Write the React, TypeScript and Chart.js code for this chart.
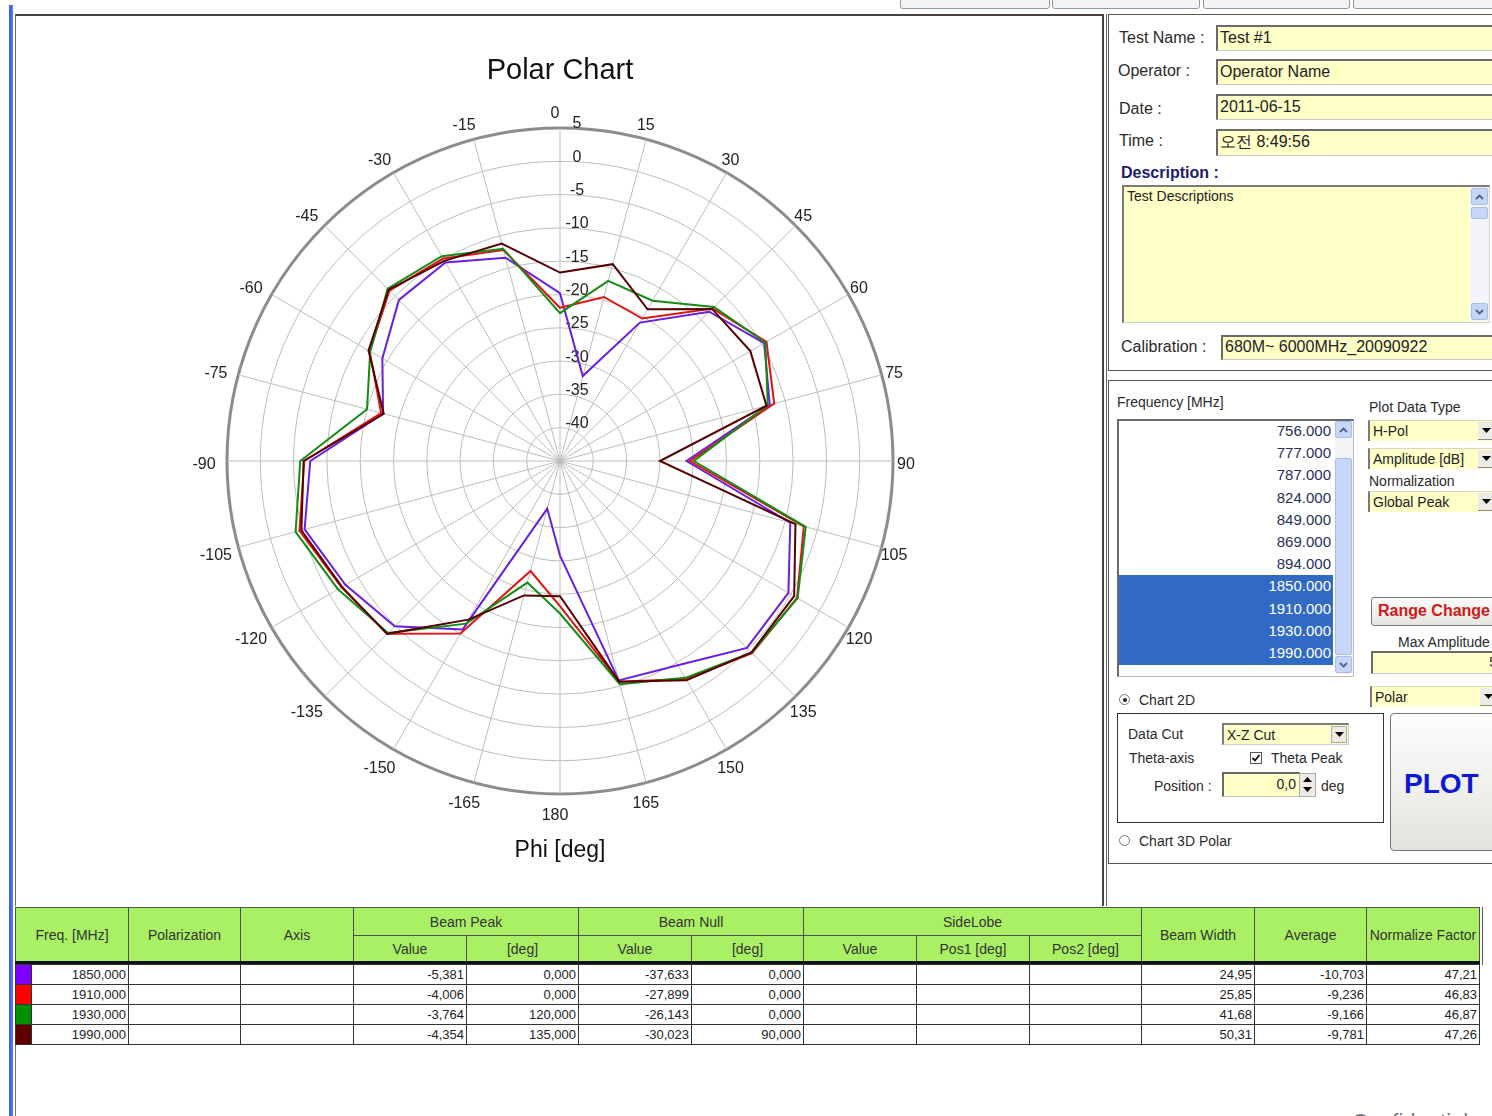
import React, { useEffect, useRef } from 'react';
import { Chart, registerables } from 'chart.js';

Chart.register(...registerables);

// ---------- DATA ----------
const angleLabels = ['0', '15', '30', '45', '60', '75', '90', '105', '120', '135', '150', '165', '180',
  '-165', '-150', '-135', '-120', '-105', '-90', '-75', '-60', '-45', '-30', '-15'];

const series1850 = [-19.8, -31.8, -21.0, -13.3, -9.6, -12.4, -26.0, -9.2, -5.4, -5.3, -9.6, -10.9, -30.8,
  -37.6, -15.8, -9.9, -7.8, -5.3, -7.5, -17.5, -14.2, -10.8, -10.6, -13.4];
const series1910 = [-22.0, -19.5, -20.3, -12.6, -9.2, -11.7, -25.5, -7.1, -3.9, -4.2, -7.2, -10.7, -23.2,
  -27.9, -15.1, -8.3, -7.1, -4.5, -6.6, -17.2, -12.0, -8.8, -9.9, -12.2];
const series1930 = [-22.8, -17.0, -17.2, -12.3, -9.4, -12.7, -24.9, -6.8, -3.8, -4.3, -7.4, -10.3, -22.1,
  -26.1, -16.8, -8.5, -6.5, -3.9, -6.0, -15.0, -12.1, -8.4, -9.5, -12.0];
const series1990 = [-16.7, -14.4, -18.7, -12.7, -12.0, -12.9, -30.0, -8.4, -4.4, -4.35, -7.0, -10.7, -24.7,
  -24.1, -17.5, -8.3, -7.2, -4.8, -6.5, -17.6, -11.8, -8.6, -10.3, -11.2];

const seriesNames = ['1850.000', '1910.000', '1930.000', '1990.000'];
const seriesColors = ['#6a1ee0', '#e01414', '#148c14', '#560000'];
const radialTicks = [5, 0, -5, -10, -15, -20, -25, -30, -35, -40];

const freqList = ['756.000', '777.000', '787.000', '824.000', '849.000', '869.000', '894.000',
  '1850.000', '1910.000', '1930.000', '1990.000'];

const tableFreq = ['1850,000', '1910,000', '1930,000', '1990,000'];
const beamPeakValue = ['-5,381', '-4,006', '-3,764', '-4,354'];
const beamPeakDeg = ['0,000', '0,000', '120,000', '135,000'];
const beamNullValue = ['-37,633', '-27,899', '-26,143', '-30,023'];
const beamNullDeg = ['0,000', '0,000', '0,000', '90,000'];
const beamWidth = ['24,95', '25,85', '41,68', '50,31'];
const averageVals = ['-10,703', '-9,236', '-9,166', '-9,781'];
const normFactor = ['47,21', '46,83', '46,87', '47,26'];
const swatchColors = ['#8000ff', '#ff0000', '#009000', '#600000'];

const FONT = '"Liberation Sans", Arial, sans-serif';

// ---------- helpers ----------
const T = ({ x, y, text, size = 16, bold = false, color = '#2a2a2a', family = FONT }: any) => (
  <div style={{ position: 'absolute', left: x, top: y, transform: 'translateY(-50%)', whiteSpace: 'nowrap',
    fontSize: size, lineHeight: 1, fontWeight: bold ? 'bold' : 'normal', color, fontFamily: family }}>{text}</div>
);

const Box = ({ x, y, w, h, style = {}, children }: any) => (
  <div style={{ position: 'absolute', left: x, top: y, width: w, height: h, boxSizing: 'border-box', ...style }}>{children}</div>
);

const Field = ({ x, y, w, h, text, size = 16, align = 'left' }: any) => (
  <Box x={x} y={y} w={w} h={h} style={{ background: '#ffffc8', borderTop: '2px solid #6a6a6a', borderLeft: '2px solid #6a6a6a',
    borderBottom: '1px solid #c8c8c8', borderRight: '1px solid #c8c8c8', overflow: 'hidden' }}>
    <div style={{ position: 'absolute', left: 2, right: 3, top: '50%', transform: 'translateY(-55%)', fontSize: size,
      lineHeight: 1, whiteSpace: 'nowrap', textAlign: align, color: '#222', fontFamily: FONT }}>{text}</div>
  </Box>
);

const Arrow = ({ dir = 'down', color = '#000' }: any) => (
  <svg width="9" height="6" viewBox="0 0 9 6" style={{ display: 'block' }}>
    {dir === 'down' ? <polygon points="0,0 9,0 4.5,5" fill={color} /> : <polygon points="0,5 9,5 4.5,0" fill={color} />}
  </svg>
);

const Combo = ({ x, y, w, h, text }: any) => (
  <Box x={x} y={y} w={w} h={h} style={{ background: '#ffffc8', borderLeft: '2px solid #7a7a7a', borderTop: '1px solid #d8d8c0' }}>
    <div style={{ position: 'absolute', left: 3, top: '50%', transform: 'translateY(-50%)', fontSize: 14, lineHeight: 1,
      whiteSpace: 'nowrap', color: '#222', fontFamily: FONT }}>{text}</div>
    <div style={{ position: 'absolute', right: 0, top: 1, width: 16, bottom: 1, background: '#ecebe6',
      display: 'flex', alignItems: 'center', justifyContent: 'center', borderBottom: '1px solid #888' }}>
      <Arrow />
    </div>
  </Box>
);

const ScrollBtn = ({ x, y, dir }: any) => (
  <Box x={x} y={y} w={17} h={17} style={{ background: '#c6d6f8', border: '1px solid #a8bde8', borderRadius: 2,
    display: 'flex', alignItems: 'center', justifyContent: 'center' }}>
    <svg width="9" height="6" viewBox="0 0 9 6">
      <polyline points={dir === 'up' ? '1,5 4.5,1.5 8,5' : '1,1 4.5,4.5 8,1'} fill="none" stroke="#4d6185" strokeWidth="1.8" />
    </svg>
  </Box>
);

const Radio = ({ x, y, checked }: any) => (
  <div style={{ position: 'absolute', left: x - 6, top: y - 6, width: 11, height: 11, borderRadius: '50%',
    border: '1px solid #7a7a7a', background: '#fff', boxSizing: 'border-box' }}>
    {checked && <div style={{ position: 'absolute', left: 2.5, top: 2.5, width: 4, height: 4, borderRadius: '50%', background: '#222' }} />}
  </div>
);

// ---------- chart ----------
const polarLabelPlugin = {
  id: 'polarLabels',
  beforeDatasetsDraw(chart: any) {
    const sc = chart.scales.r;
    const ctx = chart.ctx;
    ctx.save();
    ctx.font = '16px ' + FONT;
    ctx.fillStyle = '#222';
    ctx.textAlign = 'center';
    ctx.textBaseline = 'middle';
    // radial tick labels along the 0 deg spoke
    radialTicks.forEach((v) => {
      const d = sc.getDistanceFromCenterForValue(v);
      ctx.fillText(String(v), sc.xCenter + 17, sc.yCenter - d - 4);
    });
    // angle labels around the outer ring
    angleLabels.forEach((lab, i) => {
      const p = sc.getPointPosition(i, sc.drawingArea + 18);
      ctx.fillText(lab, p.x - 5, p.y + 3.5);
    });
    ctx.restore();
  },
};

function PolarChart() {
  const ref = useRef<HTMLCanvasElement>(null);
  useEffect(() => {
    const seriesData = [series1850, series1910, series1930, series1990];
    const chart = new Chart(ref.current as HTMLCanvasElement, {
      type: 'radar',
      data: {
        labels: angleLabels,
        datasets: seriesData.map((d, i) => ({
          label: seriesNames[i],
          data: d,
          borderColor: seriesColors[i],
          backgroundColor: 'transparent',
          borderWidth: 2,
          fill: false,
          pointRadius: 0,
          tension: 0,
          order: 4 - i,
        })),
      },
      options: {
        animation: false,
        responsive: false,
        layout: { padding: { top: 0, bottom: 0, left: 2, right: 0 } },
        plugins: {
          legend: { display: false },
          tooltip: { enabled: false },
          title: { display: true, text: 'Polar Chart', color: '#111', font: { size: 29, family: FONT, weight: 'normal' },
            padding: { top: 37.6, bottom: 40.1 } },
          subtitle: { display: true, position: 'bottom', text: 'Phi [deg]', color: '#111',
            font: { size: 23, family: FONT, weight: 'normal' }, padding: { top: 41.5, bottom: 40 } },
        },
        scales: {
          r: {
            min: -45,
            max: 5,
            startAngle: 0,
            ticks: { stepSize: 5, display: false },
            grid: {
              circular: true,
              color: (c: any) => (c.tick && c.tick.value === 5 ? '#8c8c8c' : '#bdbdbd'),
              lineWidth: (c: any) => (c.tick && c.tick.value === 5 ? 3 : 1),
            },
            angleLines: { color: '#bdbdbd', lineWidth: 1 },
            pointLabels: { display: false },
          },
        },
      } as any,
      plugins: [polarLabelPlugin],
    });
    return () => chart.destroy();
  }, []);
  return <canvas ref={ref} width={1086} height={888} style={{ position: 'absolute', left: 16, top: 16, width: 1086, height: 888 }} />;
}

// ---------- table ----------
const colX = [15, 31, 128, 240, 353, 466, 578, 691, 803, 916, 1029, 1141, 1254, 1366, 1479];
const HGREEN = '#aaf064';

const HCell = ({ x1, x2, y1, y2, text }: any) => (
  <div style={{ position: 'absolute', left: x1, top: y1, width: x2 - x1 + 1, height: y2 - y1 + 1, boxSizing: 'border-box',
    border: '1px solid #505050', background: HGREEN, display: 'flex', alignItems: 'center', justifyContent: 'center',
    fontSize: 14, color: '#333', whiteSpace: 'nowrap', overflow: 'hidden', fontFamily: FONT }}>
    <span style={{ flexShrink: 0 }}>{text}</span>
  </div>
);

const DCell = ({ x1, x2, y1, text, bg }: any) => (
  <div style={{ position: 'absolute', left: x1, top: y1, width: x2 - x1 + 1, height: 21, boxSizing: 'border-box',
    border: '1px solid #333', background: bg || '#fff', textAlign: 'right', paddingRight: 2, fontSize: 13,
    lineHeight: '19px', color: '#222', whiteSpace: 'nowrap', overflow: 'hidden', fontFamily: FONT }}>{text}</div>
);

function DataTable() {
  const rowsY = [964, 984, 1004, 1024];
  const cols = [tableFreq, null, null, beamPeakValue, beamPeakDeg, beamNullValue, beamNullDeg, null, null, null,
    beamWidth, averageVals, normFactor];
  return (
    <>
      <HCell x1={15} x2={128} y1={907} y2={962} text="Freq. [MHz]" />
      <HCell x1={128} x2={240} y1={907} y2={962} text="Polarization" />
      <HCell x1={240} x2={353} y1={907} y2={962} text="Axis" />
      <HCell x1={353} x2={578} y1={907} y2={935} text="Beam Peak" />
      <HCell x1={353} x2={466} y1={935} y2={962} text="Value" />
      <HCell x1={466} x2={578} y1={935} y2={962} text="[deg]" />
      <HCell x1={578} x2={803} y1={907} y2={935} text="Beam Null" />
      <HCell x1={578} x2={691} y1={935} y2={962} text="Value" />
      <HCell x1={691} x2={803} y1={935} y2={962} text="[deg]" />
      <HCell x1={803} x2={1141} y1={907} y2={935} text="SideLobe" />
      <HCell x1={803} x2={916} y1={935} y2={962} text="Value" />
      <HCell x1={916} x2={1029} y1={935} y2={962} text="Pos1 [deg]" />
      <HCell x1={1029} x2={1141} y1={935} y2={962} text="Pos2 [deg]" />
      <HCell x1={1141} x2={1254} y1={907} y2={962} text="Beam Width" />
      <HCell x1={1254} x2={1366} y1={907} y2={962} text="Average" />
      <HCell x1={1366} x2={1479} y1={907} y2={962} text="Normalize Factor" />
      <div style={{ position: 'absolute', left: 15, top: 961, width: 1465, height: 3, background: '#111' }} />
      <div style={{ position: 'absolute', left: 1482, top: 907, width: 1, height: 58, background: '#555' }} />
      {rowsY.map((y, r) => (
        <React.Fragment key={r}>
          <DCell x1={15} x2={31} y1={y} text="" bg={swatchColors[r]} />
          {cols.map((c, ci) => (
            <DCell key={ci} x1={colX[ci + 1]} x2={colX[ci + 2]} y1={y} text={c ? c[r] : ''} />
          ))}
        </React.Fragment>
      ))}
    </>
  );
}

// ---------- app ----------
export default function App() {
  return (
    <div style={{ position: 'absolute', left: 0, top: 0, width: 1492, height: 1116, overflow: 'hidden', background: '#fff',
      fontFamily: FONT, color: '#222' }}>
      {/* left blue window edge */}
      <div style={{ position: 'absolute', left: 9, top: 5, width: 4, height: 1111, background: 'linear-gradient(90deg,#2e5fd6,#4f7ff0)' }} />
      {/* top tabs */}
      {[[900, 1050], [1052, 1200], [1203, 1350], [1353, 1500]].map(([a, b], i) => (
        <div key={i} style={{ position: 'absolute', left: a, top: -12, width: b - a, height: 21, border: '1px solid #8c9aa8',
          borderRadius: 3, background: '#f4f4f4', boxSizing: 'border-box' }} />
      ))}
      {/* chart frame */}
      <div style={{ position: 'absolute', left: 15, top: 14, width: 1089, height: 892, borderTop: '2px solid #444',
        borderLeft: '1px solid #666', borderRight: '2px solid #444', boxSizing: 'border-box' }} />
      <div style={{ position: 'absolute', left: 1106, top: 14, width: 1, height: 892, background: '#666' }} />
      <PolarChart />

      {/* right panel group 1 */}
      <div style={{ position: 'absolute', left: 1108, top: 14, width: 400, height: 357, border: '1px solid #555', boxSizing: 'border-box' }} />
      <T x={1119} y={38} text="Test Name :" />
      <Field x={1216} y={25} w={290} h={26} text="Test #1" />
      <T x={1118} y={71} text="Operator :" />
      <Field x={1216} y={59} w={290} h={26} text="Operator Name" />
      <T x={1119} y={109} text="Date :" />
      <Field x={1216} y={94} w={290} h={26} text="2011-06-15" />
      <T x={1119} y={141} text="Time :" />
      <Field x={1216} y={129} w={290} h={27} text="오전 8:49:56" />
      <T x={1121} y={173} text="Description :" bold color="#1c1c6e" />
      <Box x={1122} y={185} w={368} h={138} style={{ background: '#ffffc8', borderTop: '2px solid #7a7a7a', borderLeft: '2px solid #7a7a7a',
        borderBottom: '1px solid #d0d0d0', borderRight: '1px solid #d0d0d0' }}>
        <div style={{ position: 'absolute', left: 3, top: 2, fontSize: 14, lineHeight: 1, color: '#222' }}>Test Descriptions</div>
      </Box>
      <Box x={1470} y={187} w={19} h={134} style={{ background: '#f4f5f8' }} />
      <ScrollBtn x={1471} y={188} dir="up" />
      <Box x={1471} y={207} w={17} h={12} style={{ background: '#c6d6f8', border: '1px solid #a8bde8', borderRadius: 2 }} />
      <ScrollBtn x={1471} y={303} dir="down" />
      <T x={1121} y={347} text="Calibration :" />
      <Field x={1221} y={335} w={280} h={25} text="680M~ 6000MHz_20090922" />

      {/* right panel group 2 */}
      <div style={{ position: 'absolute', left: 1108, top: 380, width: 400, height: 484, border: '1px solid #555', boxSizing: 'border-box' }} />
      <T x={1117} y={402} text="Frequency [MHz]" size={14} />
      <Box x={1117} y={419} w={237} h={258} style={{ background: '#fff', borderTop: '2px solid #6a6a6a', borderLeft: '2px solid #6a6a6a',
        borderBottom: '1px solid #bbb', borderRight: '1px solid #bbb' }} />
      <Box x={1119} y={575} w={214} h={90} style={{ background: '#316ac5' }} />
      {freqList.map((f, i) => (
        <div key={f} style={{ position: 'absolute', left: 1140, width: 191, top: 420 + i * 22.2, height: 22, lineHeight: '22px',
          textAlign: 'right', fontSize: 15, color: i >= 7 ? '#fff' : '#26305a', whiteSpace: 'nowrap' }}>{f}</div>
      ))}
      <Box x={1335} y={421} w={18} h={253} style={{ background: '#f3f4f7' }} />
      <ScrollBtn x={1335} y={421} dir="up" />
      <Box x={1335} y={458} w={17} h={197} style={{ background: '#c6d6f8', border: '1px solid #a8bde8', borderRadius: 2 }} />
      <ScrollBtn x={1335} y={656} dir="down" />

      <T x={1369} y={407} text="Plot Data Type" size={14} />
      <Combo x={1368} y={420} w={126} h={21} text="H-Pol" />
      <Combo x={1368} y={448} w={126} h={21} text="Amplitude [dB]" />
      <T x={1369} y={481} text="Normalization" size={14} />
      <Combo x={1368} y={491} w={126} h={21} text="Global Peak" />

      <Box x={1371} y={597} w={130} h={29} style={{ background: 'linear-gradient(#fbfbfb,#e6e6e0)', border: '1px solid #777', borderRadius: 3 }} />
      <T x={1378} y={611} text="Range Change" size={16} bold color="#d01818" />
      <T x={1398} y={642} text="Max Amplitude" size={14} />
      <Field x={1371} y={651} w={130} h={23} text="5" align="right" size={14} />
      <Combo x={1370} y={686} w={126} h={21} text="Polar" />

      <Radio x={1125} y={700} checked />
      <T x={1139} y={700} text="Chart 2D" size={14} />
      <div style={{ position: 'absolute', left: 1117, top: 713, width: 267, height: 110, border: '1px solid #333', boxSizing: 'border-box' }} />
      <T x={1128} y={734} text="Data Cut" size={14} />
      <Box x={1222} y={723} w={127} h={22} style={{ background: '#ffffc8', borderTop: '2px solid #7a7a7a', borderLeft: '2px solid #7a7a7a', borderBottom: '1px solid #ccc', borderRight: '1px solid #ccc' }}>
        <div style={{ position: 'absolute', left: 3, top: 3, fontSize: 14, lineHeight: 1 }}>X-Z Cut</div>
        <div style={{ position: 'absolute', right: 1, top: 1, width: 16, bottom: 1, background: '#ecebe6', border: '1px solid #aaa',
          boxSizing: 'border-box', display: 'flex', alignItems: 'center', justifyContent: 'center' }}><Arrow /></div>
      </Box>
      <T x={1129} y={758} text="Theta-axis" size={14} />
      <div style={{ position: 'absolute', left: 1250, top: 752, width: 12, height: 12, border: '1px solid #555', background: '#fff', boxSizing: 'border-box' }}>
        <svg width="10" height="10" viewBox="0 0 10 10" style={{ display: 'block' }}>
          <polyline points="1.5,5 4,7.5 8.5,2" fill="none" stroke="#111" strokeWidth="1.8" />
        </svg>
      </div>
      <T x={1271} y={758} text="Theta Peak" size={14} />
      <T x={1154} y={786} text="Position :" size={14} />
      <Field x={1222} y={772} w={78} h={25} text="0,0" align="right" size={14} />
      <Box x={1299} y={773} w={17} h={24} style={{ background: '#ecebe6', border: '1px solid #aaa' }}>
        <div style={{ position: 'absolute', left: 3, top: 3 }}><Arrow dir="up" /></div>
        <div style={{ position: 'absolute', left: 3, top: 13 }}><Arrow /></div>
      </Box>
      <T x={1321} y={786} text="deg" size={14} />

      <Box x={1390} y={713} w={115} h={138} style={{ background: 'linear-gradient(#fdfdfd,#e4e4de)', border: '1px solid #777', borderRadius: 4 }} />
      <T x={1404} y={784} text="PLOT" size={28} bold color="#0c1ad8" />

      <Radio x={1125} y={841} />
      <T x={1139} y={841} text="Chart 3D Polar" size={14} />

      {/* table */}
      <DataTable />
      <div style={{ position: 'absolute', left: 15, top: 1045, width: 1, height: 71, background: '#777' }} />
      <div style={{ position: 'absolute', left: 1352, top: 1109, fontSize: 22, color: '#777', whiteSpace: 'nowrap' }}>Confidential</div>
    </div>
  );
}
